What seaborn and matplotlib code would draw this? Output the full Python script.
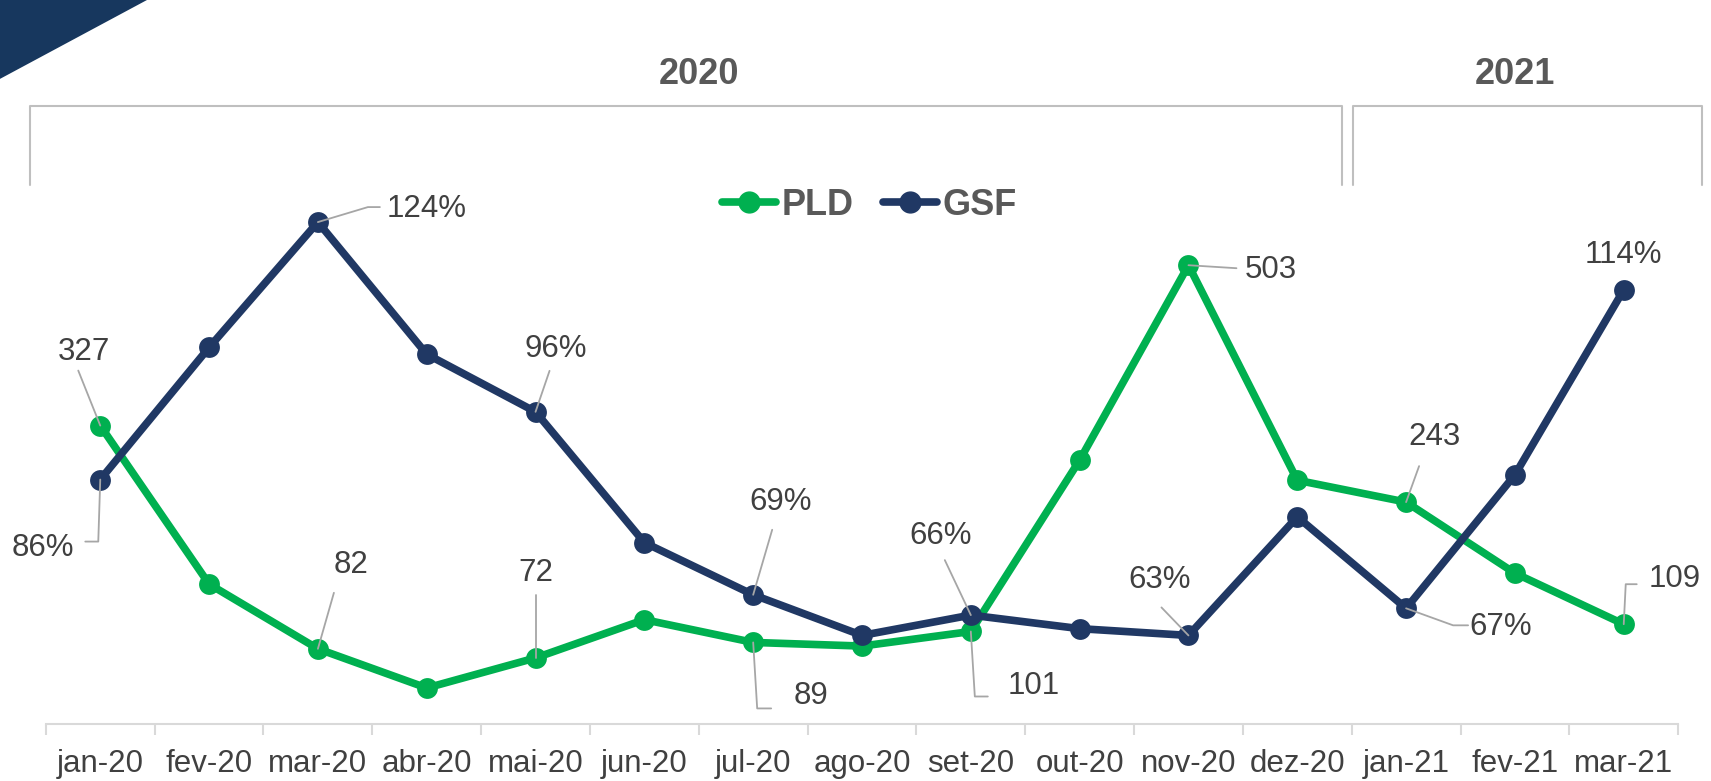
import numpy as np
import pandas as pd
import matplotlib
matplotlib.use('Agg')
import matplotlib.pyplot as plt
from matplotlib.lines import Line2D
from matplotlib.patches import Polygon
from matplotlib.transforms import IdentityTransform, blended_transform_factory
import seaborn as sns

# data
months = ['jan-20', 'fev-20', 'mar-20', 'abr-20', 'mai-20', 'jun-20', 'jul-20', 'ago-20',
          'set-20', 'out-20', 'nov-20', 'dez-20', 'jan-21', 'fev-21', 'mar-21']
pld = [327, 153, 82, 39, 72, 114, 89, 85, 101, 289, 503, 267, 243, 165, 109]
gsf = [86, 105.5, 124, 104.5, 96, 76.7, 69, 63, 66, 64, 63, 80.5, 67, 86.7, 114]
labeled = [0, 2, 4, 6, 8, 10, 12, 14]
years = ['2020', '2021']
year_months = [12, 3]

GREEN = '#00b050'
NAVY = '#203864'
TXT = '#404040'
GREY = '#a6a6a6'
LW, MS = 5.5, 15

sns.set_theme(style='white')
plt.rcParams['font.family'] = ['Liberation Sans', 'DejaVu Sans']

df = pd.DataFrame({'pos': np.arange(len(months)), 'month': months, 'PLD': pld, 'GSF': gsf})

fig = plt.figure(figsize=(17.11, 7.81), dpi=100)
ax = fig.add_axes([0.0268, 0.0736, 0.954, 0.6889])
ax2 = ax.twinx()

sns.lineplot(data=df, x='pos', y='PLD', ax=ax, color=GREEN, lw=LW, marker='o',
             markersize=MS, markeredgewidth=0, zorder=3)
sns.lineplot(data=df, x='pos', y='GSF', ax=ax2, color=NAVY, lw=LW, marker='o',
             markersize=MS, markeredgewidth=0, zorder=3)

ax.set_xlim(-0.5, len(months) - 0.5)
ax.set_ylim(0, 590.5)
ax2.set_ylim(50, 129.4)

for a in (ax, ax2):
    for s in a.spines.values():
        s.set_visible(False)
    a.set_yticks([])
    a.set_ylabel('')
    a.set_xlabel('')
    a.grid(False)
ax.spines['bottom'].set_visible(True)
ax.spines['bottom'].set_color('#d9d9d9')
ax.spines['bottom'].set_linewidth(1.5)

ax.set_xticks(df['pos'])
ax.set_xticklabels(months, fontsize=22.5, color=TXT)
ax.set_xticks(np.arange(-0.5, len(months)), minor=True)
ax.tick_params(axis='x', which='major', length=0, pad=18)
ax.tick_params(axis='x', which='minor', length=8, width=1.5, color='#d9d9d9', bottom=True)

# label offsets in pixels (dx right, dy down) and leader vertices
pld_lab = {
    0: ((-16, -74), [(0, 0), (-22, -55)]),
    2: ((33, -84), [(0, 0), (16, -56)]),
    4: ((0, -85), [(0, 0), (0, -63)]),
    6: ((58, 54), [(0, 0), (4, 66), (18, 66)]),
    8: ((63, 55), [(0, 0), (4, 65), (17, 65)]),
    10: ((82, 5), [(0, 0), (48, 3)]),
    12: ((28, -65), [(0, 0), (13, -36)]),
    14: ((51, -45), [(0, 0), (2, -40), (13, -40)]),
}
gsf_lab = {
    0: ((-57, 68), [(0, 0), (-2, 62), (-15, 62)]),
    2: ((109, -13), [(0, 0), (50, -15), (62, -15)]),
    4: ((20, -63), [(0, 0), (14, -41)]),
    6: ((27, -93), [(0, 0), (19, -65)]),
    8: ((-30, -79), [(0, 0), (-26, -55)]),
    10: ((-29, -55), [(0, 0), (-27, -28)]),
    12: ((95, 19), [(0, 0), (47, 17), (62, 17)]),
    14: ((0, -35), []),
}

for a, vals, spec, fmt in [(ax, pld, pld_lab, '{:.0f}'), (ax2, gsf, gsf_lab, '{:.0f}%')]:
    for i in labeled:
        (dx, dy), path = spec[i]
        a.annotate(fmt.format(vals[i]), xy=(i, vals[i]), xytext=(dx, -dy),
                   textcoords='offset pixels', ha='center', va='center',
                   fontsize=22.5, color=TXT, zorder=5, annotation_clip=False)
        if path:
            px, py = a.transData.transform((i, vals[i]))
            xs = [px + p[0] for p in path]
            ys = [py - p[1] for p in path]
            fig.add_artist(Line2D(xs, ys, transform=IdentityTransform(), color=GREY, lw=1.3, zorder=4))

# legend
handles = [Line2D([], [], color=GREEN, lw=LW, marker='o', markersize=MS),
           Line2D([], [], color=NAVY, lw=LW, marker='o', markersize=MS)]
leg = fig.legend(handles, ['PLD', 'GSF'], loc='center', bbox_to_anchor=(0.508, 0.737), ncol=2,
                 frameon=False, handlelength=1.5, handletextpad=0.15, columnspacing=0.8,
                 prop={'size': 26, 'weight': 'bold'})
for t in leg.get_texts():
    t.set_color('#595959')

# year brackets above the plot
tr = blended_transform_factory(ax.transData, ax.transAxes)
start = -0.5
edges = [(-0.65, 11.41), (11.51, 14.72)]
for yr, n, (x0, x1) in zip(years, year_months, edges):
    ax.plot([x0, x0, x1, x1], [1.0, 1.148, 1.148, 1.0], transform=tr, color='#bfbfbf',
            lw=1.5, clip_on=False)
    ax.text(start + n / 2, 1.207, yr, transform=tr, ha='center', va='center',
            fontsize=26, fontweight='bold', color='#595959')
    start += n

# corner triangle
fig.patches.append(Polygon([(0, 1), (0.0859, 1), (0, 0.899)], closed=True,
                           transform=fig.transFigure, facecolor='#17375e', edgecolor='none'))

fig.savefig('out.png', dpi=100)
